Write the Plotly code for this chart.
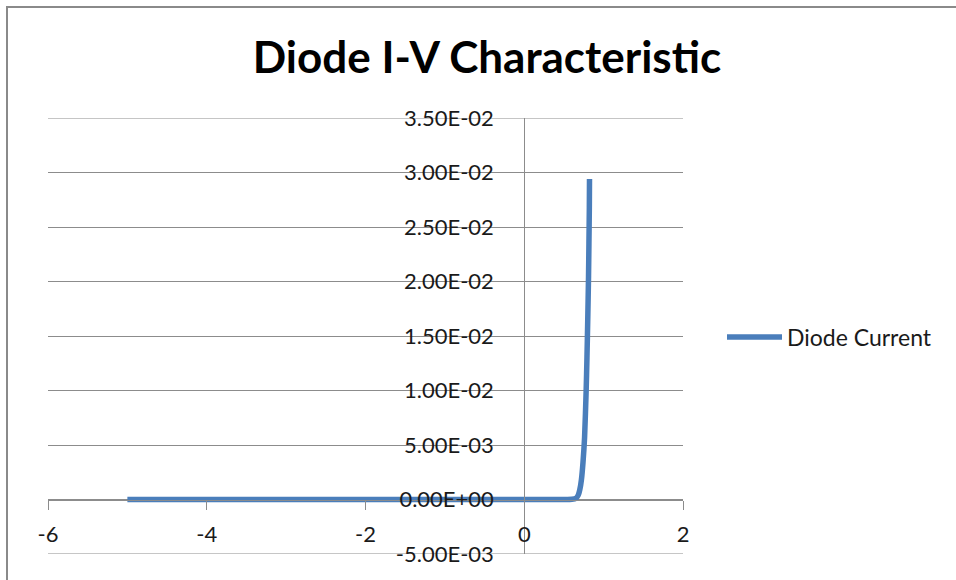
import plotly.graph_objects as go

# Data
voltage = [-5.0, -4.0, -3.0, -2.0, -1.0, 0.0, 0.5, 0.6, 0.65, 0.68, 0.70, 0.72, 0.74,
           0.76, 0.78, 0.79, 0.80, 0.81, 0.815, 0.82, 0.822]
current = [0.0, 0.0, 0.0, 0.0, 0.0, 0.0, 0.0, 0.00002, 0.0001, 0.0004, 0.0009, 0.0018,
           0.0034, 0.0057, 0.0100, 0.0130, 0.0165, 0.0205, 0.0235, 0.0268, 0.0294]

x_ticks = [-6, -4, -2, 0, 2]
x_tick_labels = ["-6", "-4", "-2", "0", "2"]
y_ticks = [-0.005, 0.0, 0.005, 0.01, 0.015, 0.02, 0.025, 0.03, 0.035]
y_tick_labels = ["-5.00E-03", "0.00E+00", "5.00E-03", "1.00E-02", "1.50E-02",
                 "2.00E-02", "2.50E-02", "3.00E-02", "3.50E-02"]

series_name = "Diode Current"
title_text = "Diode I-V Characteristic"

W, H = 956, 580
L, R, T, B = 48, 683, 118, 554  # plot area in pixels

FONT = "Lato"
GRID = "#8c8c8c"
TXT = "#1a1a1a"

fig = go.Figure()
fig.add_trace(go.Scatter(
    x=voltage, y=current, mode="lines", name=series_name,
    line=dict(color="#4a7ebb", width=5.5, shape="spline", smoothing=0.6),
))

xr = [x_ticks[0], x_ticks[-1]]
yr = [y_ticks[0], y_ticks[-1]]
ypos = (0 - xr[0]) / (xr[1] - xr[0])
xpos = (0 - yr[0]) / (yr[1] - yr[0])

# gridlines at the range ends (plotly omits them at the plot edges)
edge_grid = [dict(type="line", xref="paper", yref="y", x0=0, x1=1, y0=v, y1=v,
                  line=dict(color=GRID, width=1), layer="below")
             for v in (y_ticks[0], y_ticks[-1])]

fig.update_layout(
    width=W, height=H,
    margin=dict(l=L, r=W - R, t=T, b=H - B, pad=0),
    paper_bgcolor="white", plot_bgcolor="white",
    font=dict(family=FONT, size=20, color=TXT),
    title=dict(text="<b>" + title_text + "</b>", x=487 / W, xanchor="center",
               y=1 - 58 / H, yanchor="middle", yref="container",
               font=dict(family=FONT, size=44, color="black")),
    showlegend=True,
    legend=dict(x=(722 - L) / (R - L), xanchor="left", y=(B - 337) / (B - T), yanchor="middle",
                font=dict(family=FONT, size=23, color=TXT), itemwidth=55,
                bgcolor="rgba(0,0,0,0)", borderwidth=0),
    xaxis=dict(range=xr, tickvals=x_ticks, ticktext=x_tick_labels, showgrid=False, zeroline=False,
               showline=True, linecolor=GRID, linewidth=1,
               ticks="outside", ticklen=9, tickcolor=GRID, tickwidth=1,
               anchor="free", position=xpos, ticklabelstandoff=6,
               tickfont=dict(family=FONT, size=22, color=TXT)),
    yaxis=dict(range=yr, tickvals=y_ticks, ticktext=y_tick_labels,
               showgrid=True, gridcolor=GRID, gridwidth=1, zeroline=False,
               showline=True, linecolor=GRID, linewidth=1, ticks="",
               anchor="free", position=ypos, ticklabelstandoff=26,
               tickfont=dict(family=FONT, size=22, color=TXT)),
    shapes=[dict(type="rect", xref="paper", yref="paper",
                 x0=(7 - L) / (R - L), x1=(W + 40 - L) / (R - L),
                 y0=(B - (H + 40)) / (B - T), y1=(B - 7) / (B - T),
                 line=dict(color="#8a8a8a", width=2), layer="below")] + edge_grid,
)

fig.write_html("out.html", config={"displayModeBar": False},
               post_script="document.body.style.margin='0';document.body.style.overflow='hidden';")
